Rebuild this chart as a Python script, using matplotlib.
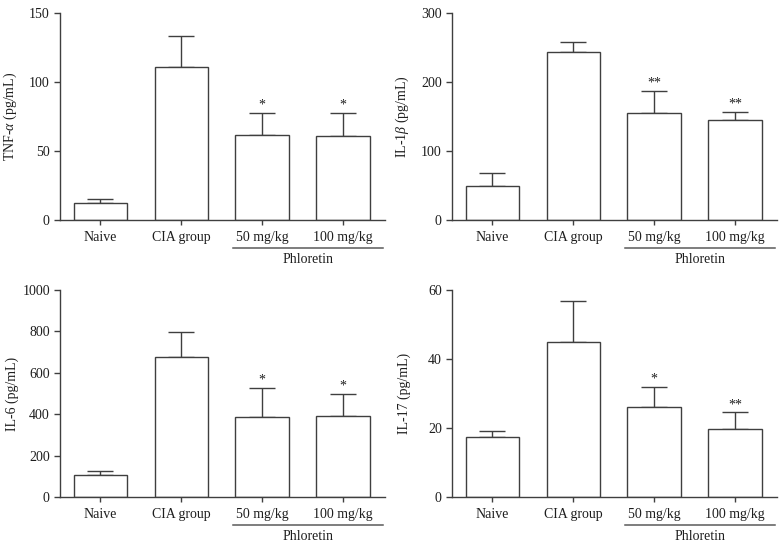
import matplotlib
matplotlib.use("Agg")
import matplotlib.pyplot as plt
import matplotlib.transforms as mtransforms

plt.rcParams['font.family'] = ['Liberation Serif', 'DejaVu Serif']
plt.rcParams['mathtext.fontset'] = 'custom'
plt.rcParams['mathtext.rm'] = 'Liberation Serif'
plt.rcParams['mathtext.it'] = 'Liberation Serif:italic'

groups = ["Naive", "CIA group", "50 mg/kg", "100 mg/kg"]
group_label = "Phloretin"

tnf_mean = [12, 111, 61.5, 61]
tnf_upper = [15.5, 133, 77.5, 77.5]
tnf_sig = ["", "", "*", "*"]

il1b_mean = [50, 243, 154.5, 145]
il1b_upper = [67.5, 258, 187, 156.5]
il1b_sig = ["", "", "**", "**"]

il6_mean = [104, 677, 385, 391]
il6_upper = [128, 796, 526, 497]
il6_sig = ["", "", "*", "*"]

il17_mean = [17.5, 45, 26.1, 19.6]
il17_upper = [19.1, 56.7, 32.0, 24.5]
il17_sig = ["", "", "*", "**"]

panels = [
    (r"TNF-$\alpha$ (pg/mL)", tnf_mean, tnf_upper, tnf_sig, 150, [0, 50, 100, 150]),
    (r"IL-1$\beta$ (pg/mL)", il1b_mean, il1b_upper, il1b_sig, 300, [0, 100, 200, 300]),
    ("IL-6 (pg/mL)", il6_mean, il6_upper, il6_sig, 1000, [0, 200, 400, 600, 800, 1000]),
    ("IL-17 (pg/mL)", il17_mean, il17_upper, il17_sig, 60, [0, 20, 40, 60]),
]

W, H = 784, 548
fig = plt.figure(figsize=(W / 100, H / 100), dpi=100)
col = "#3f3f3f"
txt = "#1e1e1e"
fs = 10

rects = [
    (60, 13, 385, 220),
    (452, 13, 777, 220),
    (60, 290, 385, 497),
    (452, 290, 777, 497),
]

for (ylabel, mean, upper, sig, ymax, yticks), (x0, y0, x1, y1) in zip(panels, rects):
    ax = fig.add_axes([x0 / W, 1 - y1 / H, (x1 - x0) / W, (y1 - y0) / H])
    xs = list(range(len(groups)))
    ax.bar(xs, mean, width=0.66, color="white", edgecolor=col, linewidth=1.0, zorder=2)
    err_up = [u - m for u, m in zip(upper, mean)]
    ax.errorbar(xs, mean, yerr=[[0] * len(mean), err_up], fmt="none",
                ecolor=col, elinewidth=1.0, capsize=9.5, capthick=1.0, zorder=1)
    for x, u, s in zip(xs, upper, sig):
        if s:
            ax.annotate(s, (x, u), xytext=(0, 1), textcoords="offset points",
                        ha="center", va="bottom", fontsize=fs, color=txt)
    ax.set_xlim(-0.5, 3.52)
    ax.set_ylim(0, ymax)
    ax.set_yticks(yticks)
    ax.set_xticks(xs)
    ax.set_xticklabels(groups)
    for sp in ["top", "right"]:
        ax.spines[sp].set_visible(False)
    for sp in ["left", "bottom"]:
        ax.spines[sp].set_color(col)
        ax.spines[sp].set_linewidth(1.0)
    ax.tick_params(axis="both", colors=col, width=1.0, labelcolor=txt, labelsize=fs)
    ax.tick_params(axis="y", length=4.3, pad=3)
    ax.tick_params(axis="x", length=3.6, pad=4.5)
    ax.set_ylabel(ylabel, fontsize=fs, color=txt)
    ax.yaxis.set_label_coords(-0.125, 0.5)

    trans = mtransforms.blended_transform_factory(ax.transData, ax.transAxes)
    ax.plot([1.64, 3.49], [-0.135, -0.135], transform=trans, color="#5a5a5a",
            linewidth=1.1, clip_on=False)
    ax.text((1.64 + 3.49) / 2, -0.16, group_label, transform=trans, ha="center",
            va="top", fontsize=fs, color=txt)

fig.savefig("out.png", dpi=100)
